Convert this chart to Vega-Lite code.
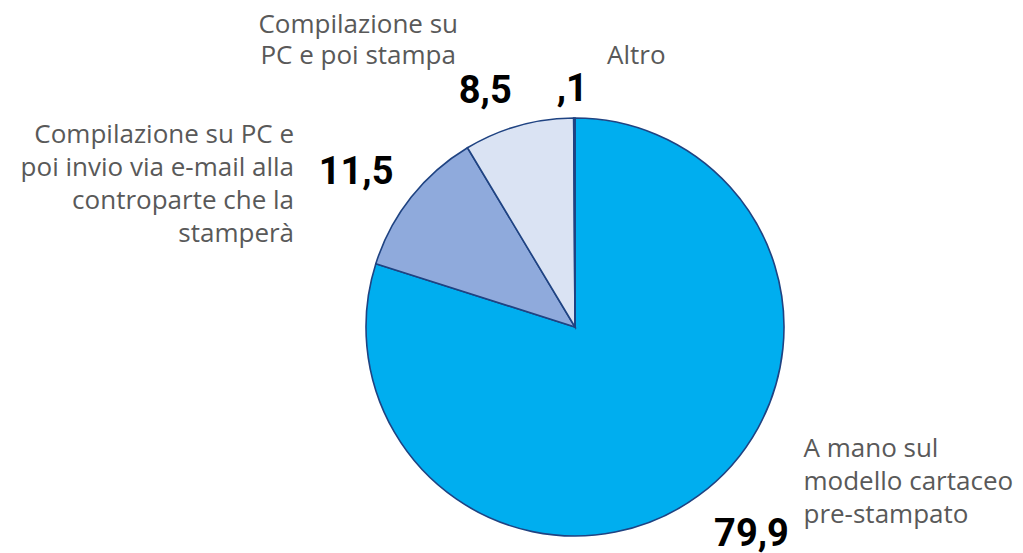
{
  "$schema": "https://vega.github.io/schema/vega-lite/v6.json",
  "width": 418,
  "height": 418,
  "autosize": {"type": "none"},
  "padding": {"left": 366, "top": 118, "right": 239, "bottom": 17},
  "background": "#ffffff",
  "config": {"view": {"stroke": null}},
  "data": {
    "values": [
      {"categoria": "A mano sul modello cartaceo pre-stampato", "etichetta": "A mano sul\nmodello cartaceo\npre-stampato", "valore": 79.9, "numero": "79,9", "ordine": 1},
      {"categoria": "Compilazione su PC e poi invio via e-mail alla controparte che la stamperà", "etichetta": "Compilazione su PC e\npoi invio via e-mail alla\ncontroparte che la\nstamperà", "valore": 11.5, "numero": "11,5", "ordine": 2},
      {"categoria": "Compilazione su PC e poi stampa", "etichetta": "Compilazione su\nPC e poi stampa", "valore": 8.5, "numero": "8,5", "ordine": 3},
      {"categoria": "Altro", "etichetta": "Altro", "valore": 0.1, "numero": ",1", "ordine": 4}
    ]
  },
  "encoding": {
    "theta": {"field": "valore", "type": "quantitative", "stack": true},
    "order": {"field": "ordine", "type": "quantitative", "sort": "ascending"}
  },
  "layer": [
    {
      "mark": {"type": "arc", "stroke": "#1F4382", "strokeWidth": 1.6},
      "encoding": {
        "color": {
          "field": "categoria",
          "type": "nominal",
          "scale": {
            "domain": ["A mano sul modello cartaceo pre-stampato", "Compilazione su PC e poi invio via e-mail alla controparte che la stamperà", "Compilazione su PC e poi stampa", "Altro"],
            "range": ["#00AEEF", "#8FAADC", "#DAE3F3", "#1F3864"]
          },
          "legend": null
        }
      }
    },
    {
      "mark": {"type": "text", "radius": 282, "dx": 10, "dy": -9, "align": "center", "baseline": "alphabetic", "font": "Roboto", "fontWeight": "bold", "fontSize": 38, "fill": "#000000"},
      "encoding": {"text": {"condition": {"test": "datum.ordine === 1", "field": "numero"}, "value": ""}}
    },
    {
      "mark": {"type": "text", "radius": 282, "dx": 62, "dy": -98, "align": "left", "baseline": "alphabetic", "lineBreak": "\n", "lineHeight": 33, "font": "Open Sans", "fontSize": 26, "fill": "#595959"},
      "encoding": {"text": {"condition": {"test": "datum.ordine === 1", "field": "etichetta"}, "value": ""}}
    },
    {
      "mark": {"type": "text", "radius": 260, "dx": -15, "dy": 18, "align": "center", "baseline": "alphabetic", "font": "Roboto", "fontWeight": "bold", "fontSize": 38, "fill": "#000000"},
      "encoding": {"text": {"condition": {"test": "datum.ordine === 2", "field": "numero"}, "value": ""}}
    },
    {
      "mark": {"type": "text", "radius": 260, "dx": -77, "dy": -23, "align": "right", "baseline": "alphabetic", "lineBreak": "\n", "lineHeight": 33, "font": "Open Sans", "fontSize": 26, "fill": "#595959"},
      "encoding": {"text": {"condition": {"test": "datum.ordine === 2", "field": "etichetta"}, "value": ""}}
    },
    {
      "mark": {"type": "text", "radius": 240, "dx": -25, "dy": 7, "align": "center", "baseline": "alphabetic", "font": "Roboto", "fontWeight": "bold", "fontSize": 38, "fill": "#000000"},
      "encoding": {"text": {"condition": {"test": "datum.ordine === 3", "field": "numero"}, "value": ""}}
    },
    {
      "mark": {"type": "text", "radius": 240, "dx": -152, "dy": -63, "align": "center", "baseline": "alphabetic", "lineBreak": "\n", "lineHeight": 31, "font": "Open Sans", "fontSize": 26, "fill": "#595959"},
      "encoding": {"text": {"condition": {"test": "datum.ordine === 3", "field": "etichetta"}, "value": ""}}
    },
    {
      "mark": {"type": "text", "radius": 226, "dx": -2, "dy": 0, "align": "center", "baseline": "alphabetic", "font": "Roboto", "fontWeight": "bold", "fontSize": 38, "fill": "#000000"},
      "encoding": {"text": {"condition": {"test": "datum.ordine === 4", "field": "numero"}, "value": ""}}
    },
    {
      "mark": {"type": "text", "radius": 226, "dx": 62, "dy": -37, "align": "center", "baseline": "alphabetic", "font": "Open Sans", "fontSize": 26, "fill": "#595959"},
      "encoding": {"text": {"condition": {"test": "datum.ordine === 4", "field": "etichetta"}, "value": ""}}
    }
  ]
}
